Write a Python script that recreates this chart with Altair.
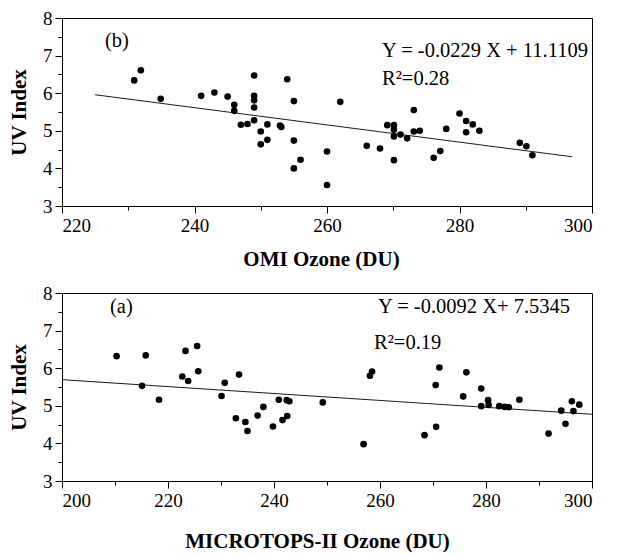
import altair as alt
import pandas as pd

# ---- data ----
omi_ozone = [230.9, 231.9, 234.9, 241.0, 243.0, 245.0, 246.0, 246.0, 247.0, 248.0,
             249.0, 249.0, 249.0, 249.0, 249.0, 250.0, 250.0, 251.0, 251.0, 252.9,
             253.1, 254.0, 255.0, 255.0, 255.0, 256.0, 260.0, 260.0, 262.0, 266.0,
             268.0, 269.1, 270.1, 270.1, 270.1, 270.1, 271.1, 272.1, 273.1, 273.1,
             274.0, 276.1, 277.1, 278.0, 280.0, 281.0, 281.0, 282.0, 283.0, 289.1,
             290.1, 291.0]
omi_uv = [6.34, 6.61, 5.85, 5.93, 6.02, 5.91, 5.69, 5.53, 5.16, 5.18,
          6.47, 5.93, 5.81, 5.62, 5.28, 4.98, 4.64, 5.17, 4.76, 5.14,
          5.10, 6.37, 5.79, 4.74, 4.00, 4.23, 4.45, 3.56, 5.77, 4.60,
          4.53, 5.15, 5.15, 5.03, 4.85, 4.22, 4.90, 4.80, 5.55, 4.98,
          5.00, 4.28, 4.46, 5.05, 5.46, 5.26, 4.96, 5.17, 5.00, 4.68,
          4.59, 4.35]

mic_ozone = [210.3, 215.1, 215.8, 218.3, 222.7, 223.3, 223.8, 225.5, 225.7, 230.1,
             230.7, 232.8, 233.4, 234.6, 235.0, 236.9, 238.0, 239.8, 240.9, 241.6,
             242.4, 242.9, 242.5, 249.2, 256.9, 258.1, 258.5, 268.4, 270.5, 270.6,
             271.2, 275.7, 276.3, 279.1, 279.1, 280.4, 280.5, 282.5, 283.5, 284.3,
             286.3, 291.8, 294.2, 295.0, 296.2, 296.5, 297.6]
mic_uv = [6.32, 5.53, 6.34, 5.16, 5.78, 6.46, 5.66, 6.59, 5.92, 5.26,
          5.61, 4.67, 5.83, 4.57, 4.33, 4.74, 4.97, 4.45, 5.16, 4.62,
          5.15, 5.12, 4.73, 5.09, 3.98, 5.80, 5.91, 4.22, 5.55, 4.44,
          6.02, 5.25, 5.89, 5.46, 4.99, 5.15, 5.02, 4.99, 4.97, 4.96,
          5.16, 4.26, 4.87, 4.52, 5.12, 4.86, 5.03]

omi_fit = (-0.0229, 11.1109)
mic_fit = (-0.0092, 7.5345)
omi_fit_range = [225, 297]
mic_fit_range = [200, 300]

omi_eq = "Y = -0.0229 X + 11.1109"
omi_r2 = "R\u00b2=0.28"
mic_eq = "Y = -0.0092 X+ 7.5345"
mic_r2 = "R\u00b2=0.19"

FONT = "Liberation Serif"


def panel(ozone, uv, fit, fit_range, xdomain, xtitle, title_x, title_pad, tag, eq, r2, pos):
    df = pd.DataFrame({"ozone": ozone, "uv": uv})
    line_df = pd.DataFrame({"ozone": fit_range,
                            "uv": [fit[0] * v + fit[1] for v in fit_range]})
    x_ticks = list(range(xdomain[0], xdomain[1] + 1, 10))
    y_ticks = [3 + 0.5 * i for i in range(11)]
    xaxis = alt.Axis(values=x_ticks, title=xtitle, titleX=title_x,
                     labelExpr="datum.value % 20 == 0 ? format(datum.value, 'd') : ''",
                     tickSize={"condition": {"test": "datum.value % 20 == 0", "value": 7}, "value": 4},
                     labelPadding=3, titlePadding=title_pad, grid=False)
    yaxis = alt.Axis(values=y_ticks, title="UV Index",
                     labelExpr="datum.value % 1 == 0 ? format(datum.value, 'd') : ''",
                     tickSize={"condition": {"test": "datum.value % 1 == 0", "value": 7}, "value": 4},
                     labelPadding=3, titlePadding=13, grid=False)
    x = alt.X("ozone:Q", scale=alt.Scale(domain=xdomain, nice=False, zero=False), axis=xaxis)
    y = alt.Y("uv:Q", scale=alt.Scale(domain=[3, 8], nice=False, zero=False), axis=yaxis)

    pts = alt.Chart(df).mark_circle(size=44, color="black", opacity=1).encode(x=x, y=y)
    line = alt.Chart(line_df).mark_line(color="black", strokeWidth=0.9).encode(x=x, y=y)

    one = alt.Data(values=[{}])
    t_eq = alt.Chart(one).mark_text(align="left", baseline="middle", font=FONT,
                                    fontSize=20.5, color="black").encode(
        x=alt.value(pos["eq"][0]), y=alt.value(pos["eq"][1]), text=alt.value(eq))
    t_r2 = alt.Chart(one).mark_text(align="left", baseline="middle", font=FONT,
                                    fontSize=20.5, color="black").encode(
        x=alt.value(pos["r2"][0]), y=alt.value(pos["r2"][1]), text=alt.value(r2))
    t_tag = alt.Chart(one).mark_text(align="left", baseline="middle", font=FONT,
                                     fontSize=20.5, color="black").encode(
        x=alt.value(pos["tag"][0]), y=alt.value(pos["tag"][1]), text=alt.value(tag))

    return alt.layer(line, pts, t_eq, t_r2, t_tag).properties(width=530, height=188)


top = panel(omi_ozone, omi_uv, omi_fit, omi_fit_range, [220, 300], "OMI Ozone (DU)", 259, 13, "(b)",
            omi_eq, omi_r2, {"eq": (320, 33), "r2": (320, 61), "tag": (43, 23)})
bottom = panel(mic_ozone, mic_uv, mic_fit, mic_fit_range, [200, 300], "MICROTOPS-II Ozone (DU)", 255, 20, "(a)",
               mic_eq, mic_r2, {"eq": (316, 14), "r2": (312, 50), "tag": (48, 14)})

chart = alt.vconcat(top, bottom, spacing=13).properties(
    padding={"left": 0, "top": 0, "right": 0, "bottom": 0},
    background="white"
).configure_view(
    stroke="black", strokeWidth=1
).configure_axis(
    domainColor="black", tickColor="black", labelColor="black", titleColor="black",
    labelFont=FONT, titleFont=FONT, labelFontSize=19, titleFontSize=21,
    titleFontWeight="bold", domainWidth=1, tickWidth=1
)

chart.save("out.html", embed_options={"renderer": "svg", "actions": False})
